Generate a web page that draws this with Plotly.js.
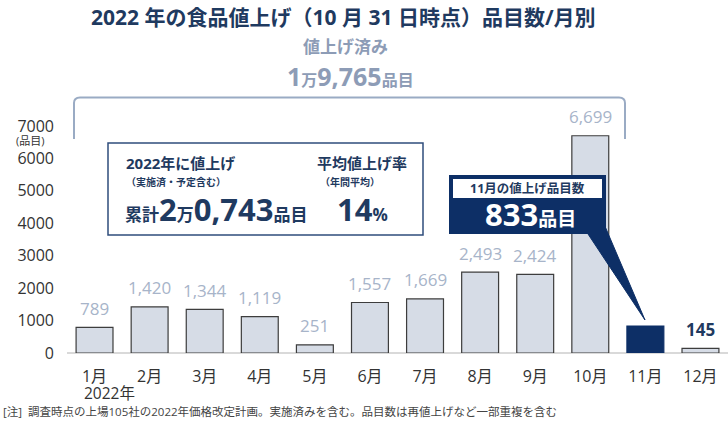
<!DOCTYPE html>
<html>
<head>
<meta charset="utf-8">
<script src="https://cdn.plot.ly/plotly-3.0.1.min.js"></script>
<style>html,body{margin:0;padding:0;background:#fff}#chart{width:728px;height:423px}</style>
</head>
<body>
<div id="chart"></div>
<script>
// ---- data ----
const months = ["1月","2月","3月","4月","5月","6月","7月","8月","9月","10月","11月","12月"];
const items = [789, 1420, 1344, 1119, 251, 1557, 1669, 2493, 2424, 6699, 833, 145];
const yTicks = [0, 1000, 2000, 3000, 4000, 5000, 6000, 7000];
const highlightMonth = "11月";
const calloutTitle = "11月の値上げ品目数";
const calloutValue = "833";

// ---- layout helpers ----
const W = 728, H = 423;
const M = {l: 67, r: 0, t: 126, b: 70};
const pw = W - M.l - M.r, ph = H - M.t - M.b;
const px = x => (x - M.l) / pw;
const py = y => (H - M.b - y) / ph;

const FONT = "Open Sans, Noto Sans CJK JP, sans-serif";
const NAVY = "#0d2f66";
const TXT = "#1f3a60";
const LIGHT = "#a7b4c9";
const BAR = "#d6dce6";

const trace = {
  type: "bar",
  x: months,
  y: items,
  marker: {
    color: months.map(m => m === highlightMonth ? NAVY : BAR),
    line: {color: months.map(m => m === highlightMonth ? NAVY : "#3d3d3d"), width: 1.2}
  },
  hoverinfo: "none"
};

const ann = [];
function txt(x, y, text, size, color, opts) {
  ann.push(Object.assign({
    xref: "paper", yref: "paper", x: px(x), y: py(y), text: text,
    showarrow: false, xanchor: "center", yanchor: "middle",
    font: {family: FONT, size: size, color: color}
  }, opts || {}));
}

// bar value labels
months.forEach((m, i) => {
  if (m === highlightMonth) return;
  const last = i === months.length - 1;
  ann.push({
    xref: "x", yref: "y", x: m, y: items[i], yshift: 19, showarrow: false,
    text: last ? "<b>" + items[i].toLocaleString("en-US") + "</b>" : items[i].toLocaleString("en-US"),
    font: {family: FONT, size: 17, color: last ? TXT : LIGHT}
  });
});

// titles and texts
txt(343, 17, "<b>2022 年の食品値上げ（10 月 31 日時点）品目数/月別</b>", 21, TXT);
txt(345, 47, "<b>値上げ済み</b>", 17, "#8d9cb6");
txt(350, 76, "<b>1<span style='font-size:16px'>万</span>9,765<span style='font-size:16px'>品目</span></b>", 25, "#8d9cb6");
txt(15, 140, "(品目)", 11, "#333", {xanchor: "left", borderpad: 0});
txt(83, 393, "2022年", 15.5, "#333", {xanchor: "left", borderpad: 0});
txt(2, 411, "[注]  調査時点の上場105社の2022年価格改定計画。実施済みを含む。品目数は再値上げなど一部重複を含む", 11.5, "#444", {xanchor: "left", borderpad: 0});

// inner info box
txt(124, 163, "<b>2022年に値上げ</b>", 15, TXT, {xanchor: "left"});
txt(124, 182, "<b>（実施済・予定含む）</b>", 10, TXT, {xanchor: "left"});
txt(123, 209, "<b>累計<span style='font-size:31px'>2</span>万<span style='font-size:31px'>0,743</span>品目</b>", 17, TXT, {xanchor: "left"});
txt(315, 163, "<b>平均値上げ率</b>", 15, TXT, {xanchor: "left"});
txt(318, 182, "<b>（年間平均）</b>", 10, TXT, {xanchor: "left"});
txt(362, 209, "<b><span style='font-size:31px'>14</span>%</b>", 17, TXT);

// callout
txt(527, 188.5, "<b>" + calloutTitle + "</b>", 12.5, TXT);
txt(530, 214, "<b><span style='font-size:31px'>" + calloutValue + "</span>品目</b>", 19, "#ffffff");

const P = (x, y) => px(x).toFixed(5) + "," + py(y).toFixed(5);
const shapes = [
  // bracket
  {type: "path", xref: "paper", yref: "paper",
   path: "M" + P(74,139) + " L" + P(74,103) + " Q" + P(74,97.5) + " " + P(80,97.5) +
         " L" + P(619,97.5) + " Q" + P(625,97.5) + " " + P(625,103) + " L" + P(625,139),
   line: {color: "#9aabc4", width: 2}},
  // inner box
  {type: "rect", xref: "paper", yref: "paper", x0: px(108), x1: px(423), y0: py(235), y1: py(143),
   line: {color: "#2f4d7c", width: 1.5}, fillcolor: "#ffffff"},
  // callout pointer
  {type: "path", xref: "paper", yref: "paper",
   path: "M" + P(588,234) + " L" + P(604,224) + " L" + P(645,320) + " Z",
   fillcolor: NAVY, line: {color: NAVY, width: 1}},
  // callout box
  {type: "rect", xref: "paper", yref: "paper", x0: px(449), x1: px(606), y0: py(234), y1: py(175),
   fillcolor: NAVY, line: {width: 0}},
  {type: "rect", xref: "paper", yref: "paper", x0: px(453), x1: px(602), y0: py(198), y1: py(179),
   fillcolor: "#ffffff", line: {width: 0}}
];

const layout = {
  width: W, height: H,
  margin: M,
  paper_bgcolor: "#ffffff", plot_bgcolor: "#ffffff",
  showlegend: false,
  bargap: 0.33,
  font: {family: FONT, color: "#333"},
  xaxis: {
    type: "category", showgrid: false, showline: false, zeroline: false,
    ticks: "", ticklabelstandoff: 12,
    tickfont: {family: FONT, size: 16, color: "#333"}
  },
  yaxis: {
    range: [0, 7000], tickvals: yTicks, ticktext: yTicks.map(String),
    showgrid: false, showline: false, zeroline: true, zerolinecolor: "#d9d9d9", zerolinewidth: 1.5,
    ticks: "", ticklabelstandoff: 12,
    tickfont: {family: FONT, size: 16, color: "#333"}
  },
  annotations: ann,
  shapes: shapes
};

Plotly.newPlot("chart", [trace], layout, {staticPlot: true, displayModeBar: false});
</script>
</body>
</html>
